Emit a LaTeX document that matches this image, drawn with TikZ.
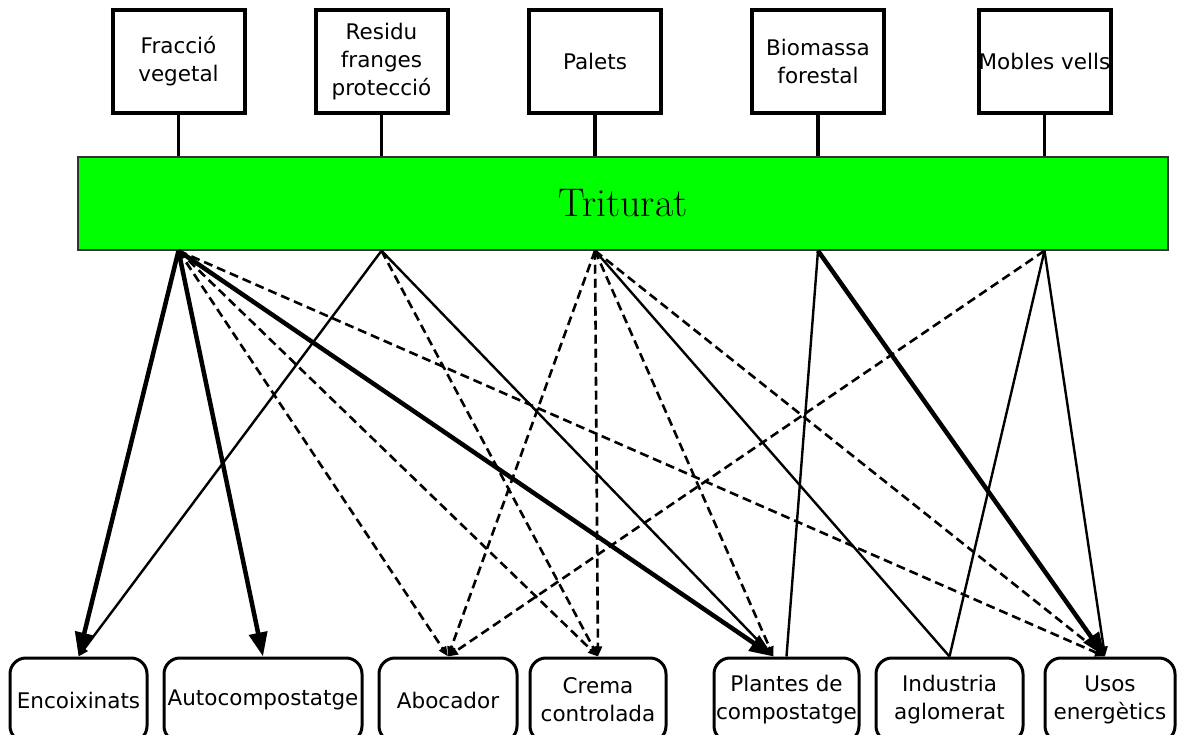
\documentclass[tikz,border=0pt]{standalone}
\usepackage{fontspec}
\newfontfamily\dv{DejaVu Sans}
\usetikzlibrary{arrows.meta,calc}
\begin{document}
\begin{tikzpicture}[x=1pt,y=-1pt,
  topbox/.style={draw, line width=4pt, minimum width=132pt, minimum height=103pt,
    align=center, inner sep=0pt, font=\dv\fontsize{21.5}{28}\selectfont},
  botbox/.style={draw, line width=3pt, rounded corners=16pt, minimum height=84pt,
    align=center, inner sep=0pt, font=\dv\fontsize{21.5}{28}\selectfont},
  feed/.style={line width=3.5pt},
  heavy/.style={line width=4.5pt, -{Triangle[length=24pt,width=18pt]}},
  thinarr/.style={line width=2.4pt, -{Triangle[length=10pt,width=8pt]}},
  thinline/.style={line width=2.4pt},
  dashedge/.style={line width=2.6pt, dash pattern=on 9pt off 5pt, -{Triangle[length=10pt,width=8pt]}}
]
\clip (0,0) rectangle (1179,735);
\fill[white] (0,0) rectangle (1179,735);

% top boxes
\node[topbox] (fv) at (178.5,61.5) {Fracció\\vegetal};
\node[topbox] (rf) at (381.5,61.5) {Residu\\franges\\protecció};
\node[topbox] (pa) at (595,61.5) {Palets};
\node[topbox] (bf) at (818,61.5) {Biomassa\\forestal};
\node[topbox] (mv) at (1044.5,61.5) {Mobles vells};

% bar
\node[draw=black!80, line width=1.5pt, fill={rgb,255:red,0;green,255;blue,0},
  minimum width=1090pt, minimum height=93pt, inner sep=0pt,
  font=\fontsize{40}{44}\selectfont] (bar) at (623,203.5) {Triturat};

\foreach \n in {fv,rf,pa,bf,mv}{
  \draw[feed] (\n.south) -- (\n.south |- bar.north);
  \coordinate (\n o) at (\n.south |- bar.south);
}

% bottom boxes
\node[botbox, minimum width=137pt] (enc) at (78.5,700) {Encoixinats};
\node[botbox, minimum width=198pt] (aut) at (263,700) {Autocompostatge};
\node[botbox, minimum width=138pt] (abo) at (448,700) {Abocador};
\node[botbox, minimum width=136pt] (cre) at (598,700) {Crema\\controlada};
\node[botbox, minimum width=145pt] (pla) at (786.5,700) {Plantes de\\compostatge};
\node[botbox, minimum width=147pt] (ind) at (949.5,700) {Industria\\aglomerat};
\node[botbox, minimum width=130pt] (uso) at (1110,700) {Usos\\energètics};

\coordinate (plaIn) at ($(pla.north)+(-13,0)$);
\coordinate (usoIn) at ($(uso.north)+(-5,0)$);

% edges from Fraccio vegetal
\draw[heavy] (fvo) -- (enc.north);
\draw[heavy] (fvo) -- (aut.north);
\draw[dashedge] (fvo) -- (abo.north);
\draw[dashedge] (fvo) -- (cre.north);
\draw[heavy] (fvo) -- (plaIn);
\draw[dashedge] (fvo) -- (usoIn);
% edges from Residu
\draw[thinarr] (rfo) -- (enc.north);
\draw[dashedge] (rfo) -- (cre.north);
\draw[thinarr] (rfo) -- (plaIn);
% edges from Palets
\draw[dashedge] (pao) -- (abo.north);
\draw[dashedge] (pao) -- (cre.north);
\draw[dashedge] (pao) -- (plaIn);
\draw[thinline] (pao) -- (ind.north);
\draw[dashedge] (pao) -- (usoIn);
% edges from Biomassa
\draw[thinline] (bfo) -- (pla.north);
\draw[heavy] (bfo) -- (usoIn);
% edges from Mobles vells
\draw[dashedge] (mvo) -- (abo.north);
\draw[thinline] (mvo) -- (ind.north);
\draw[thinarr] (mvo) -- (usoIn);
\end{tikzpicture}
\end{document}
